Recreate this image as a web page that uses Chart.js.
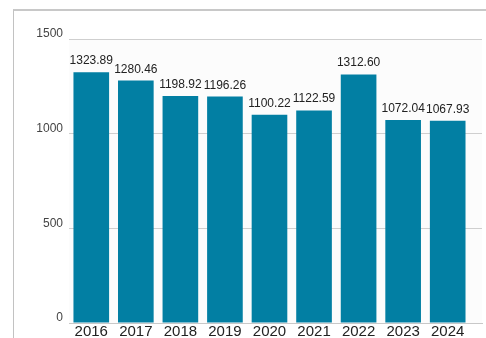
<!DOCTYPE html>
<html>
<head>
<meta charset="utf-8">
<script src="https://cdn.jsdelivr.net/npm/chart.js@4/dist/chart.umd.min.js"></script>
<style>
  html, body { margin: 0; padding: 0; background: #fff; overflow: hidden; }
  #wrap { position: relative; width: 486px; height: 338px; }
  #frame { position: absolute; left: 13px; top: 9px; width: 600px; height: 400px;
           border-left: 1px solid #c2c2c2; border-top: 2px solid #c8c8c8; }
  #c { position: absolute; left: 0; top: 0; }
</style>
</head>
<body>
<div id="wrap">
  <div id="frame"></div>
  <canvas id="c" width="486" height="338"></canvas>
</div>
<script>
// Annual values, one bar per year
const years = ['2016', '2017', '2018', '2019', '2020', '2021', '2022', '2023', '2024'];
const values = [1323.89, 1280.46, 1198.92, 1196.26, 1100.22, 1122.59, 1312.60, 1072.04, 1067.93];
const yTicks = [0, 500, 1000, 1500];

const points = years.map((_, i) => ({ x: i, y: values[i] }));

// Light fill behind the plotting area
const plotBackground = {
  id: 'plotBackground',
  beforeDraw(chart) {
    const { ctx, chartArea: a } = chart;
    ctx.save();
    ctx.fillStyle = '#fcfcfc';
    ctx.fillRect(a.left, a.top, a.right - a.left, a.bottom - a.top);
    ctx.restore();
  }
};

// Value printed above each bar
const valueLabels = {
  id: 'valueLabels',
  afterDatasetsDraw(chart) {
    const { ctx } = chart;
    const meta = chart.getDatasetMeta(0);
    ctx.save();
    ctx.font = '12px "Liberation Sans", Arial, sans-serif';
    ctx.fillStyle = '#222';
    ctx.textAlign = 'center';
    ctx.textBaseline = 'alphabetic';
    meta.data.forEach((bar, i) => {
      ctx.fillText(values[i].toFixed(2), bar.x, bar.y - 8);
    });
    ctx.restore();
  }
};

new Chart(document.getElementById('c'), {
  type: 'bar',
  data: {
    datasets: [{
      data: points,
      backgroundColor: '#027fa3',
      borderWidth: 0,
      barPercentage: 0.8,
      categoryPercentage: 1
    }]
  },
  options: {
    responsive: false,
    animation: false,
    layout: { padding: { top: 39, right: 4, left: 0, bottom: 0 } },
    plugins: { legend: { display: false }, tooltip: { enabled: false } },
    scales: {
      x: {
        type: 'linear',
        min: -0.5,
        max: 8.77,
        offset: false,
        afterBuildTicks(scale) { scale.ticks = years.map((_, i) => ({ value: i })); },
        afterFit(scale) { scale.height = 15; },
        grid: { display: false, offset: false, drawTicks: false },
        border: { display: true, color: '#c8c8c8', width: 1 },
        ticks: {
          padding: 0,
          maxRotation: 0,
          autoSkip: false,
          color: '#222',
          font: { family: '"Liberation Sans", Arial, sans-serif', size: 15 },
          callback: (v) => years[v]
        }
      },
      y: {
        min: 0,
        max: 1500,
        afterBuildTicks(scale) { scale.ticks = yTicks.map(v => ({ value: v })); },
        afterFit(scale) { scale.width = 69; },
        grid: { color: '#cfcfcf', drawTicks: false },
        border: { display: false },
        ticks: {
          padding: 6,
          labelOffset: -5,
          color: '#444',
          font: { family: '"Liberation Sans", Arial, sans-serif', size: 12 },
          callback: (v) => String(v)
        }
      }
    }
  },
  plugins: [plotBackground, valueLabels]
});
</script>
</body>
</html>
